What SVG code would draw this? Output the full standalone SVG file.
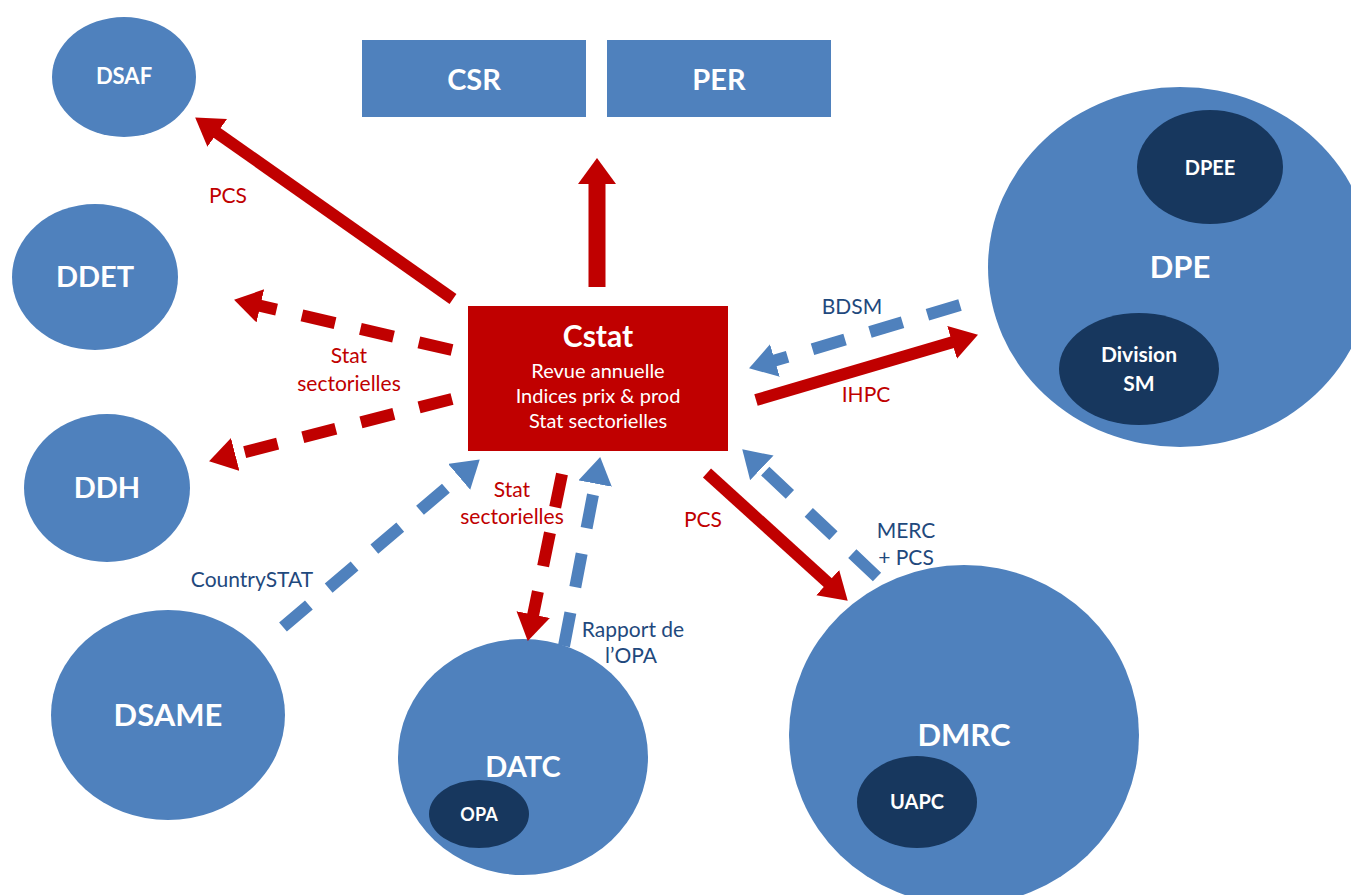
<svg xmlns="http://www.w3.org/2000/svg" width="1351" height="895" viewBox="0 0 1351 895">
<defs>
<style>
.node{fill:#4F81BD}
.inner{fill:#17375E}
.nt{fill:#fff;font-family:Lato,"Liberation Sans",sans-serif;font-weight:bold;text-anchor:middle}
.st{fill:#fff;font-family:Lato,"Liberation Sans",sans-serif;font-size:20px;text-anchor:middle}
.lr{fill:#C00000;font-family:Lato,"Liberation Sans",sans-serif;font-size:21px;text-anchor:middle}
.lb{fill:#1F497D;font-family:Lato,"Liberation Sans",sans-serif;font-size:21px;text-anchor:middle}
.rs{stroke:#C00000;stroke-width:12;fill:none}
.rd{stroke:#C00000;stroke-width:12;fill:none;stroke-dasharray:34 26}
.bd{stroke:#4F81BD;stroke-width:12;fill:none;stroke-dasharray:34 26}
</style>
<marker id="hr" markerUnits="userSpaceOnUse" markerWidth="30" markerHeight="36" refX="2" refY="17" orient="auto"><path d="M0,0 L27,17 L0,34 z" fill="#C00000"/></marker>
<marker id="hb" markerUnits="userSpaceOnUse" markerWidth="30" markerHeight="36" refX="2" refY="17" orient="auto"><path d="M0,0 L27,17 L0,34 z" fill="#4F81BD"/></marker>
<marker id="hl" markerUnits="userSpaceOnUse" markerWidth="30" markerHeight="40" refX="2" refY="19" orient="auto"><path d="M0,0 L26,19 L0,38 z" fill="#C00000"/></marker>
</defs>
<rect width="1351" height="895" fill="#fff"/>

<g id="DSAF"><ellipse class="node" cx="124" cy="77" rx="72" ry="60"/><text class="nt" x="124" y="84" font-size="22">DSAF</text></g>
<g id="DDET"><ellipse class="node" cx="95" cy="277" rx="83" ry="73"/><text class="nt" x="95" y="287" font-size="29">DDET</text></g>
<g id="DDH"><ellipse class="node" cx="107" cy="488" rx="83" ry="74"/><text class="nt" x="107" y="498" font-size="29">DDH</text></g>
<g id="DSAME"><ellipse class="node" cx="168" cy="715" rx="117" ry="105"/><text class="nt" x="168" y="726" font-size="31">DSAME</text></g>
<g id="DATC"><ellipse class="node" cx="523" cy="757" rx="125" ry="118"/><text class="nt" x="523" y="777" font-size="29">DATC</text>
<g id="OPA"><ellipse class="inner" cx="479" cy="814" rx="50" ry="34"/><text class="nt" x="479" y="821" font-size="18">OPA</text></g></g>
<g id="DMRC"><ellipse class="node" cx="964" cy="735" rx="175" ry="170"/><text class="nt" x="964" y="746" font-size="31">DMRC</text>
<g id="UAPC"><ellipse class="inner" cx="917" cy="802" rx="60" ry="46"/><text class="nt" x="917" y="809" font-size="20">UAPC</text></g></g>
<g id="DPE"><ellipse class="node" cx="1180" cy="267" rx="192" ry="180"/><text class="nt" x="1180" y="278" font-size="31">DPE</text>
<g id="DPEE"><ellipse class="inner" cx="1210" cy="167" rx="73" ry="57"/><text class="nt" x="1210" y="175" font-size="20">DPEE</text></g>
<g id="DivisionSM"><ellipse class="inner" cx="1139" cy="369" rx="80" ry="56"/><text class="nt" x="1139" y="362" font-size="21">Division</text><text class="nt" x="1139" y="391" font-size="21">SM</text></g></g>
<g id="CSR"><rect class="node" x="362" y="40" width="224" height="77"/><text class="nt" x="474" y="90" font-size="29">CSR</text></g>
<g id="PER"><rect class="node" x="607" y="40" width="224" height="77"/><text class="nt" x="719" y="90" font-size="29">PER</text></g>
<g id="Cstat"><rect x="468" y="306" width="260" height="145" fill="#C00000"/>
<text class="nt" x="598" y="347" font-size="30">Cstat</text>
<text class="st" x="598" y="378">Revue annuelle</text>
<text class="st" x="598" y="403">Indices prix &amp; prod</text>
<text class="st" x="598" y="428">Stat sectorielles</text></g>

<g id="connectors">
<line x1="597" y1="287" x2="597" y2="182" stroke="#C00000" stroke-width="17" marker-end="url(#hl)"/>
<line class="rs" x1="453" y1="299" x2="215.6" y2="131.8" marker-end="url(#hr)"/>
<line class="rd" x1="452" y1="350" x2="258.4" y2="305.4" marker-end="url(#hr)"/>
<line class="rd" x1="452" y1="399" x2="233.3" y2="455" marker-end="url(#hr)"/>
<line class="bd" x1="283" y1="627" x2="460.7" y2="475.6" marker-end="url(#hb)"/>
<line class="rd" x1="562" y1="474" x2="532.8" y2="616.5" marker-end="url(#hr)"/>
<line class="bd" x1="564" y1="646" x2="595.5" y2="481.6" marker-end="url(#hb)"/>
<line class="rs" x1="707" y1="473" x2="829.2" y2="583.9" marker-end="url(#hr)"/>
<line class="bd" x1="877" y1="577" x2="760.4" y2="466.5" marker-end="url(#hb)"/>
<line class="bd" x1="960" y1="305" x2="773" y2="361.1" marker-end="url(#hb)"/>
<line class="rs" x1="756" y1="400" x2="954" y2="341.8" marker-end="url(#hr)"/>
</g>

<g id="labels">
<text class="lr" x="228" y="203">PCS</text>
<text class="lr" x="349" y="363">Stat</text>
<text class="lr" x="349" y="391">sectorielles</text>
<text class="lr" x="866" y="402">IHPC</text>
<text class="lb" x="852" y="314">BDSM</text>
<text class="lr" x="512" y="497">Stat</text>
<text class="lr" x="512" y="524">sectorielles</text>
<text class="lr" x="703" y="527">PCS</text>
<text class="lb" x="906" y="538">MERC</text>
<text class="lb" x="906" y="565">+ PCS</text>
<text class="lb" x="252" y="587">CountrySTAT</text>
<text class="lb" x="633" y="637">Rapport de</text>
<text class="lb" x="631" y="663">l’OPA</text>
</g>
</svg>
